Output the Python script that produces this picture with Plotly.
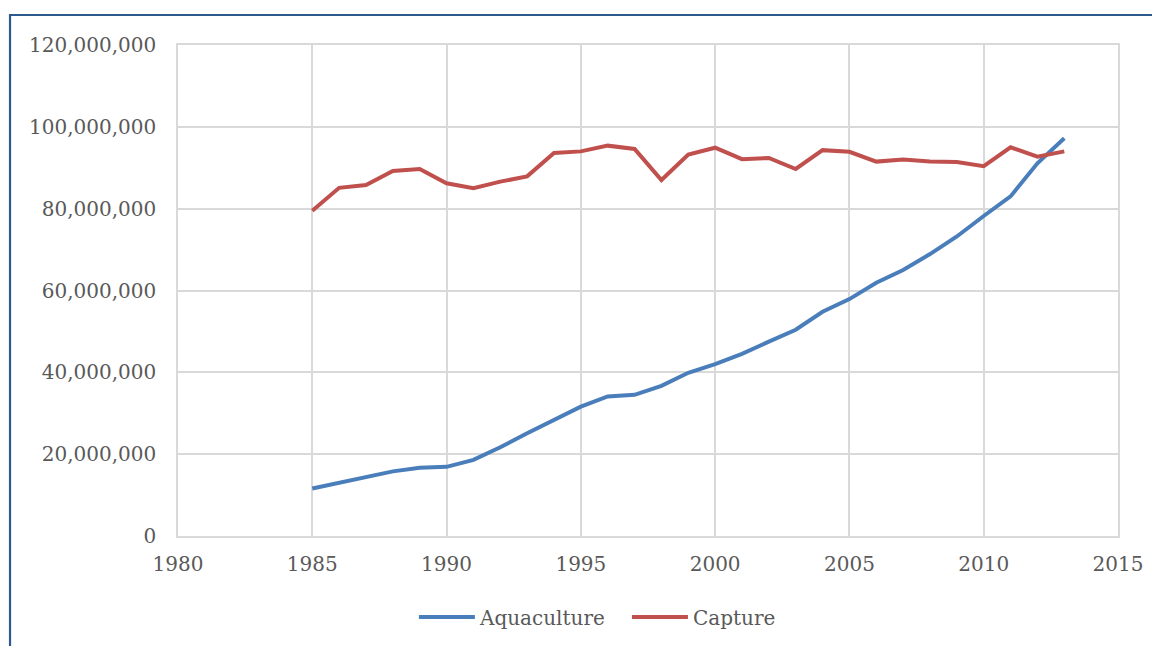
import plotly.graph_objects as go

# --- Data: world fish production (tonnes) ---
YEARS = list(range(1985, 2014))

AQUACULTURE = [
    11.6, 13.0, 14.3, 15.8, 16.7, 16.9, 18.6, 21.7, 25.1, 28.4,
    31.6, 34.1, 34.5, 36.7, 39.9, 42.0, 44.5, 47.5, 50.4, 54.8,
    57.9, 61.9, 65.0, 68.9, 73.2, 78.2, 83.0, 91.1, 97.2,
]

CAPTURE = [
    79.5, 85.1, 85.8, 89.2, 89.7, 86.2, 85.0, 86.6, 87.9, 93.6,
    94.0, 95.4, 94.6, 87.0, 93.2, 94.9, 92.1, 92.4, 89.7, 94.3,
    93.9, 91.5, 92.0, 91.5, 91.4, 90.4, 95.0, 92.7, 94.0,
]

SERIES_NAMES = ['Aquaculture', 'Capture']
COLORS = ['#4A7EBB', '#C0504D']

X_TICKS = [1980, 1985, 1990, 1995, 2000, 2005, 2010, 2015]
Y_TICKS = [0, 20e6, 40e6, 60e6, 80e6, 100e6, 120e6]

FONT = 'DejaVu Serif'
TEXT_COLOR = '#595959'
GRID_COLOR = '#D9D9D9'

fig = go.Figure()

for name, values, color in zip(SERIES_NAMES, [AQUACULTURE, CAPTURE], COLORS):
    fig.add_trace(go.Scatter(
        x=YEARS,
        y=[v * 1e6 for v in values],
        mode='lines',
        name=name,
        line=dict(color=color, width=4),
    ))

# outer frame of the chart box (dark blue, runs off the right/bottom edge)
fig.add_shape(
    type='rect', xref='paper', yref='paper',
    x0=-0.1787, x1=1.06, y0=-0.26, y1=1.0611,
    line=dict(color='#2C5A8C', width=2.2),
    fillcolor='rgba(0,0,0,0)', layer='below',
)

# the page body has an 8px margin, so the margins are shifted to compensate
fig.update_layout(
    width=1160,
    height=646,
    margin=dict(l=170, r=50, t=37, b=118),
    paper_bgcolor='white',
    plot_bgcolor='white',
    font=dict(family=FONT, size=20, color=TEXT_COLOR),
    showlegend=True,
    legend=dict(
        orientation='h',
        x=0.251, xanchor='left',
        y=-0.165, yanchor='middle',
        font=dict(family=FONT, size=20, color=TEXT_COLOR),
        itemwidth=56,
        entrywidth=142,
        traceorder='normal',
    ),
    xaxis=dict(
        range=[1980, 2015],
        tickvals=X_TICKS,
        ticktext=[str(t) for t in X_TICKS],
        showgrid=True,
        gridcolor=GRID_COLOR,
        gridwidth=1.5,
        zeroline=False,
        showline=True,
        linecolor=GRID_COLOR,
        linewidth=1.5,
        mirror=True,
        ticks='',
        ticklabelstandoff=9,
    ),
    yaxis=dict(
        range=[0, 120e6],
        tickvals=Y_TICKS,
        ticktext=[f'{int(t):,}' for t in Y_TICKS],
        showgrid=True,
        gridcolor=GRID_COLOR,
        gridwidth=1.5,
        zeroline=False,
        showline=True,
        linecolor=GRID_COLOR,
        linewidth=1.5,
        mirror=True,
        ticks='',
        ticklabelstandoff=16,
    ),
)

fig.write_html('out.html')
